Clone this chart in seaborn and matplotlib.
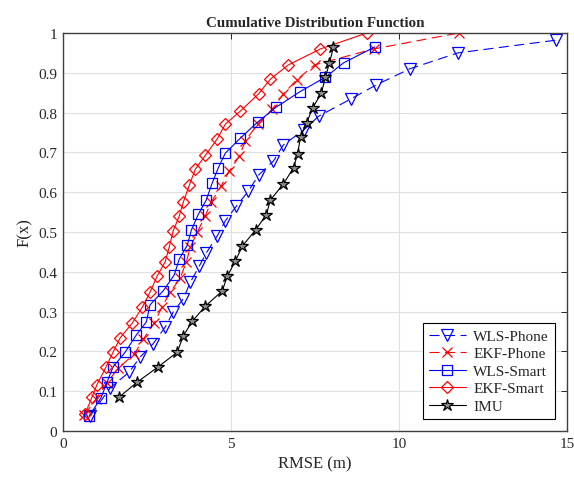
import pandas as pd
import matplotlib
matplotlib.use('Agg')
import matplotlib.pyplot as plt
import seaborn as sns

# RMSE (m) and CDF values
wls_phone_x = [0.81, 1.40, 1.97, 2.30, 2.68, 3.04, 3.28, 3.58, 3.79, 4.06, 4.26, 4.59, 4.83,
               5.16, 5.52, 5.82, 6.26, 6.56, 7.16, 7.61, 8.56, 9.31, 10.32, 11.75, 14.67]
wls_phone_f = [0.038, 0.108, 0.148, 0.186, 0.219, 0.261, 0.299, 0.332, 0.374, 0.415, 0.447, 0.490, 0.528,
               0.565, 0.603, 0.643, 0.678, 0.719, 0.756, 0.791, 0.834, 0.869, 0.910, 0.950, 0.982]

ekf_phone_x = [0.63, 0.98, 1.31, 1.64, 2.12, 2.39, 2.71, 2.95, 3.19, 3.49, 3.67, 3.79, 4.00,
               4.23, 4.41, 4.71, 4.95, 5.25, 5.43, 5.79, 6.23, 6.56, 6.95, 7.49, 9.25, 11.78]
ekf_phone_f = [0.040, 0.080, 0.121, 0.158, 0.193, 0.231, 0.271, 0.312, 0.349, 0.384, 0.425, 0.462, 0.500,
               0.540, 0.575, 0.616, 0.653, 0.691, 0.729, 0.771, 0.809, 0.847, 0.882, 0.920, 0.960, 1.0]

wls_smart_x = [0.78, 1.13, 1.31, 1.49, 1.85, 2.18, 2.48, 2.59, 2.98, 3.31, 3.46, 3.70, 3.82,
               4.03, 4.26, 4.44, 4.62, 4.83, 5.28, 5.79, 6.35, 7.04, 7.81, 8.35, 9.28]
wls_smart_f = [0.038, 0.083, 0.123, 0.161, 0.198, 0.241, 0.274, 0.317, 0.352, 0.392, 0.432, 0.467, 0.505,
               0.545, 0.580, 0.623, 0.661, 0.698, 0.736, 0.776, 0.814, 0.852, 0.889, 0.925, 0.965]

ekf_smart_x = [0.66, 0.86, 1.01, 1.28, 1.49, 1.70, 2.06, 2.36, 2.59, 2.80, 3.04, 3.16, 3.28,
               3.46, 3.58, 3.76, 3.94, 4.24, 4.59, 4.83, 5.28, 5.82, 6.17, 6.71, 7.66, 9.04]
ekf_smart_f = [0.043, 0.085, 0.116, 0.161, 0.198, 0.234, 0.271, 0.311, 0.349, 0.389, 0.425, 0.462, 0.503,
               0.540, 0.575, 0.618, 0.658, 0.693, 0.734, 0.771, 0.804, 0.847, 0.884, 0.920, 0.960, 1.0]

imu_x = [1.67, 2.21, 2.83, 3.40, 3.58, 3.85, 4.24, 4.74, 4.89, 5.13, 5.34, 5.73,
         6.05, 6.17, 6.56, 6.86, 6.98, 7.07, 7.25, 7.43, 7.69, 7.81, 7.93, 8.05]
imu_f = [0.085, 0.123, 0.161, 0.198, 0.239, 0.276, 0.314, 0.352, 0.389, 0.427, 0.465, 0.505,
         0.543, 0.580, 0.621, 0.661, 0.696, 0.739, 0.774, 0.812, 0.849, 0.889, 0.925, 0.965]

x_ticks = [0, 5, 10, 15]
y_ticks = [0, 0.1, 0.2, 0.3, 0.4, 0.5, 0.6, 0.7, 0.8, 0.9, 1]

sns.set_theme(style="whitegrid")
plt.rcParams['font.family'] = ['Liberation Serif', 'DejaVu Serif']

fig = plt.figure(figsize=(5.74, 4.81), dpi=100)
ax = fig.add_axes([0.1098, 0.1019, 0.878, 0.8274])

# name, x, F, colour, marker, marker size, line style
series = [
    ('WLS-Phone', wls_phone_x, wls_phone_f, 'blue', 'v', 8, (0, (9, 5))),
    ('EKF-Phone', ekf_phone_x, ekf_phone_f, 'red', 'x', 7, (0, (9, 5))),
    ('WLS-Smart', wls_smart_x, wls_smart_f, 'blue', 's', 6.5, '-'),
    ('EKF-Smart', ekf_smart_x, ekf_smart_f, 'red', 'D', 6, '-'),
    ('IMU', imu_x, imu_f, 'black', '*', 9, '-'),
]

for name, xs, fs, col, mk, ms, ls in series:
    df = pd.DataFrame({'RMSE': xs, 'F': fs})
    mfc = '0.55' if mk == '*' else 'none'
    sns.lineplot(data=df, x='RMSE', y='F', ax=ax, sort=False, estimator=None,
                 color=col, linestyle=ls, linewidth=0.8, marker=mk, markersize=ms,
                 markerfacecolor=mfc, markeredgecolor=col, markeredgewidth=0.9,
                 label=name)

ax.set_xlim(0, 15)
ax.set_ylim(0, 1)
ax.set_xticks(x_ticks)
ax.set_xticklabels([str(t) for t in x_ticks])
ax.set_yticks(y_ticks)
ax.set_yticklabels(['0'] + [f'{t:g}' for t in y_ticks[1:-1]] + ['1'])
ax.tick_params(direction='in', top=True, right=True, length=4, width=0.7,
               labelsize=11, colors='0.15', pad=4)
ax.grid(True, color='0.88', linewidth=0.8)
for sp in ax.spines.values():
    sp.set_color('0.25')
    sp.set_linewidth(1.0)

ax.set_title('Cumulative Distribution Function', fontsize=10.8, fontweight='bold', pad=5)
ax.set_xlabel('RMSE (m)', fontsize=12, color='0.15')
ax.set_ylabel('F(x)', fontsize=12, color='0.15')

leg = ax.legend(loc='lower right', bbox_to_anchor=(0.976, 0.03), borderaxespad=0,
                fancybox=False, framealpha=1, edgecolor='black', fontsize=11,
                handlelength=2.4, handletextpad=0.5, labelspacing=0.25, borderpad=0.4)
leg.get_frame().set_linewidth(0.8)

fig.savefig('out.png', dpi=100)
